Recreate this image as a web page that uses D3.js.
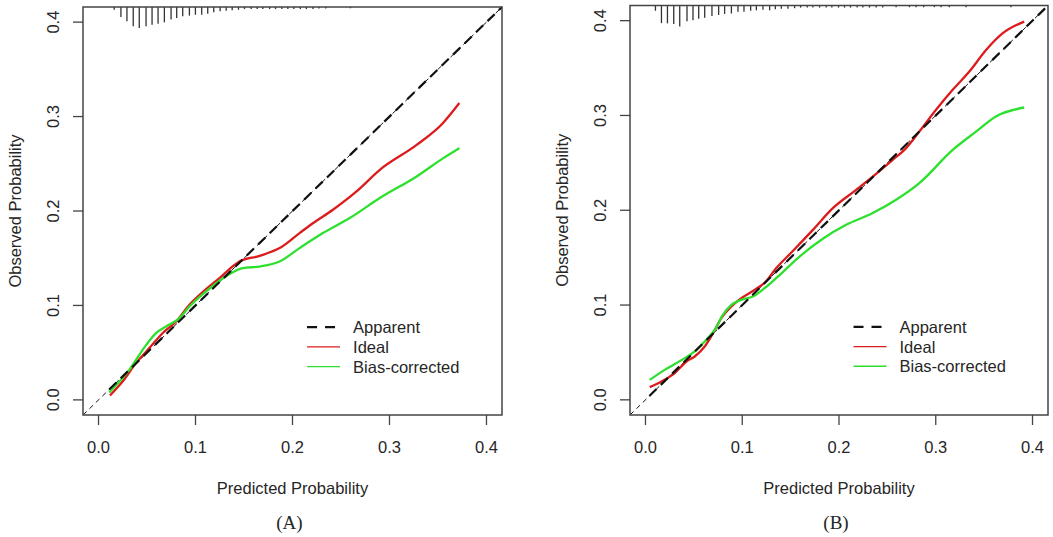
<!DOCTYPE html>
<html>
<head>
<meta charset="utf-8">
<script src="https://cdn.jsdelivr.net/npm/d3@7"></script>
<style>
  body { margin: 0; background: #fff; }
  svg { display: block; }
  text { font-family: "Liberation Sans", Arial, sans-serif; fill: #262626; }
</style>
</head>
<body>
<svg id="calib" width="1053" height="537"></svg>
<script>
// tick values shared by both panels
var ticks = [0.0, 0.1, 0.2, 0.3, 0.4];
var domain = [-0.016, 0.416];
var seriesNames = ['Apparent', 'Ideal', 'Bias-corrected'];

// panel A curves [predicted, observed]
var apparentA = [[0.011, 0.011], [0.416, 0.416]];
var idealA = [[0.0118,0.0046],[0.0248,0.0194],[0.0386,0.0389],[0.0524,0.0548],[0.066,0.0706],
  [0.080,0.083],[0.0937,0.1006],[0.104,0.111],[0.1247,0.129],[0.1453,0.1465],[0.166,0.1525],
  [0.1867,0.1607],[0.2073,0.1766],[0.221,0.187],[0.2417,0.2013],[0.266,0.2207],[0.29,0.2436],
  [0.328,0.270],[0.355,0.293],[0.372,0.3143]];
var biasA = [[0.011,0.0078],[0.0317,0.0318],[0.049,0.058],[0.0593,0.0706],[0.0696,0.0777],
  [0.0834,0.0865],[0.0937,0.0988],[0.111,0.115],[0.1316,0.131],[0.1488,0.1395],[0.166,0.1412],
  [0.1867,0.1465],[0.2073,0.1607],[0.2314,0.1766],[0.259,0.1925],[0.29,0.2137],[0.328,0.2366],
  [0.3554,0.256],[0.372,0.2666]];

// panel B curves
var apparentB = [[0.004, 0.004], [0.416, 0.416]];
var idealB = [[0.0044,0.0134],[0.0165,0.0193],[0.0302,0.0282],[0.0423,0.0404],[0.0509,0.0457],
  [0.0612,0.0562],[0.0698,0.0703],[0.0784,0.0862],[0.0888,0.0984],[0.0973,0.106],[0.1128,0.116],
  [0.1231,0.1235],[0.1352,0.139],[0.1523,0.157],[0.173,0.1793],[0.1936,0.2022],[0.2177,0.2215],
  [0.2349,0.2355],[0.2555,0.2532],[0.2676,0.2637],[0.283,0.283],[0.3003,0.306],[0.3175,0.327],
  [0.3347,0.3463],[0.352,0.369],[0.369,0.3865],[0.3914,0.399]];
var biasB = [[0.0044,0.0211],[0.0199,0.0316],[0.0406,0.044],[0.0509,0.051],[0.0612,0.0615],
  [0.0715,0.0738],[0.080,0.0897],[0.0888,0.1002],[0.099,0.1055],[0.111,0.109],[0.1231,0.1178],
  [0.1368,0.130],[0.1592,0.1512],[0.1833,0.170],[0.2074,0.1846],[0.2349,0.197],[0.259,0.211],
  [0.283,0.2286],[0.3175,0.2637],[0.3416,0.283],[0.3622,0.2990],[0.3914,0.3084]];

// distribution of predicted values (top rug), relative frequency
var rugAx = [0.0162,0.0231,0.0293,0.0358,0.0420,0.0490,0.0552,0.0614,0.0679,0.0748,0.0806,0.0868,
  0.0937,0.0999,0.1064,0.1126,0.1188,0.1254,0.1316,0.1378,0.1443,0.1505,0.1574,0.1636,0.1694,
  0.1764,0.1825,0.1890,0.1952,0.2014,0.2081,0.2143,0.2211,0.2273,0.2342,0.2597];
var rugAf = [0.13,0.48,0.68,0.92,1.0,0.92,0.84,0.80,0.73,0.60,0.52,0.44,0.41,0.37,0.37,0.32,0.25,
  0.20,0.18,0.16,0.13,0.10,0.10,0.10,0.10,0.10,0.10,0.10,0.10,0.10,0.10,0.10,0.10,0.07,0.07,0.06];
var rugBx = [0.0103,0.0165,0.0227,0.0292,0.0354,0.0429,0.0491,0.0550,0.0612,0.0687,0.0756,0.0818,
  0.0888,0.0956,0.1018,0.1087,0.1146,0.1214,0.1283,0.1342,0.1404,0.1472,0.1541,0.1603,0.1672,
  0.1730,0.1799,0.1868,0.1926,0.1995,0.2057,0.2119,0.2188,0.2246,0.2315,0.2384,0.2452,0.2590,
  0.2728,0.2797,0.2875,0.2986,0.3055,0.3140,0.3313,0.3777];
var rugBf = [0.25,0.84,0.85,0.88,1.0,0.75,0.70,0.63,0.58,0.50,0.45,0.40,0.38,0.30,0.30,0.25,0.23,
  0.20,0.23,0.18,0.15,0.15,0.13,0.10,0.10,0.10,0.10,0.10,0.10,0.10,0.10,0.10,0.10,0.10,0.10,0.10,
  0.10,0.08,0.08,0.08,0.08,0.08,0.08,0.08,0.08,0.08];

var panels = [
  {label: '(A)', apparent: apparentA, ideal: idealA, bias: biasA, rugX: rugAx, rugF: rugAf,
   box: {l: 83, r: 502, t: 7, b: 415}},
  {label: '(B)', apparent: apparentB, ideal: idealB, bias: biasB, rugX: rugBx, rugF: rugBf,
   box: {l: 630, r: 1048, t: 5.5, b: 415}}
];

var svg = d3.select('#calib');
var red = '#dc1c1c', green = '#2ee02e';
var fs = '16.5px';

panels.forEach(function(p) {
  var b = p.box;
  var x = d3.scaleLinear().domain(domain).range([b.l, b.r]);
  var y = d3.scaleLinear().domain(domain).range([b.b, b.t]);
  var g = svg.append('g');

  var line = d3.line()
    .x(function(d) { return x(d[0]); })
    .y(function(d) { return y(d[1]); })
    .curve(d3.curveMonotoneX);

  // rug of predicted probabilities hanging from the top border
  var rugH = d3.scaleLinear().domain([0, 1]).range([0, 21]);
  g.selectAll('.rug')
    .data(p.rugX)
    .enter()
    .append('line')
    .attr('class', 'rug')
    .attr('x1', function(d) { return x(d); })
    .attr('x2', function(d) { return x(d); })
    .attr('y1', b.t)
    .attr('y2', function(d, i) { return b.t + rugH(p.rugF[i]); })
    .style('stroke', '#333')
    .style('stroke-width', 1.3);

  // thin reference diagonal over the whole box
  g.append('path')
    .attr('d', d3.line().x(function(d) { return x(d); }).y(function(d) { return y(d); })(domain))
    .style('fill', 'none')
    .style('stroke', '#111')
    .style('stroke-width', 1)
    .style('stroke-dasharray', '5,4');

  g.append('path')
    .attr('d', line(p.ideal))
    .style('fill', 'none')
    .style('stroke', red)
    .style('stroke-width', 2.3);

  g.append('path')
    .attr('d', line(p.bias))
    .style('fill', 'none')
    .style('stroke', green)
    .style('stroke-width', 2.3);

  g.append('path')
    .attr('d', d3.line().x(function(d) { return x(d[0]); }).y(function(d) { return y(d[1]); })(p.apparent))
    .style('fill', 'none')
    .style('stroke', '#111')
    .style('stroke-width', 2.2)
    .style('stroke-dasharray', '10,6');

  // box
  g.append('rect')
    .attr('x', b.l).attr('y', b.t)
    .attr('width', b.r - b.l).attr('height', b.b - b.t)
    .style('fill', 'none')
    .style('stroke', '#444')
    .style('stroke-width', 1.5);

  // x axis
  g.selectAll('.xtick')
    .data(ticks)
    .enter()
    .append('line')
    .attr('x1', function(d) { return x(d); })
    .attr('x2', function(d) { return x(d); })
    .attr('y1', b.b)
    .attr('y2', b.b + 10)
    .style('stroke', '#444')
    .style('stroke-width', 1.3);
  g.selectAll('.xlab')
    .data(ticks)
    .enter()
    .append('text')
    .attr('x', function(d) { return x(d); })
    .attr('y', b.b + 38)
    .attr('text-anchor', 'middle')
    .style('font-size', fs)
    .text(function(d) { return d3.format('.1f')(d); });

  // y axis, labels rotated like R's las = 0
  g.selectAll('.ytick')
    .data(ticks)
    .enter()
    .append('line')
    .attr('x1', b.l - 10)
    .attr('x2', b.l)
    .attr('y1', function(d) { return y(d); })
    .attr('y2', function(d) { return y(d); })
    .style('stroke', '#444')
    .style('stroke-width', 1.3);
  g.selectAll('.ylab')
    .data(ticks)
    .enter()
    .append('text')
    .attr('transform', function(d) { return 'translate(' + (b.l - 24) + ',' + y(d) + ')rotate(-90)'; })
    .attr('text-anchor', 'middle')
    .style('font-size', fs)
    .text(function(d) { return d3.format('.1f')(d); });

  g.append('text')
    .attr('x', (b.l + b.r) / 2)
    .attr('y', 494)
    .attr('text-anchor', 'middle')
    .style('font-size', fs)
    .text('Predicted Probability');

  g.append('text')
    .attr('transform', 'translate(' + (b.l - 62) + ',' + ((b.t + b.b) / 2) + ')rotate(-90)')
    .attr('text-anchor', 'middle')
    .style('font-size', fs)
    .text('Observed Probability');

  g.append('text')
    .attr('x', (b.l + b.r) / 2 - 3)
    .attr('y', 529)
    .attr('text-anchor', 'middle')
    .style('font-family', '"Liberation Serif", "Times New Roman", serif')
    .style('font-size', '19px')
    .text(p.label);

  // legend
  var lx = x(0.215), ly = y(0.077), rowH = 19.7;
  var styles = [
    {stroke: '#111', w: 2.2, dash: '10,8', len: 28},
    {stroke: red, w: 1.3, dash: null, len: 33},
    {stroke: green, w: 1.3, dash: null, len: 33}
  ];
  var leg = g.selectAll('.legend')
    .data(seriesNames)
    .enter()
    .append('g')
    .attr('class', 'legend')
    .attr('transform', function(d, i) { return 'translate(' + lx + ',' + (ly + i * rowH) + ')'; });
  leg.append('line')
    .attr('x1', 0)
    .attr('x2', function(d, i) { return styles[i].len; })
    .attr('y1', 0).attr('y2', 0)
    .style('stroke', function(d, i) { return styles[i].stroke; })
    .style('stroke-width', function(d, i) { return styles[i].w; })
    .style('stroke-dasharray', function(d, i) { return styles[i].dash; });
  leg.append('text')
    .attr('x', 46)
    .attr('y', 6)
    .style('font-size', fs)
    .text(function(d) { return d; });
});
</script>
</body>
</html>
